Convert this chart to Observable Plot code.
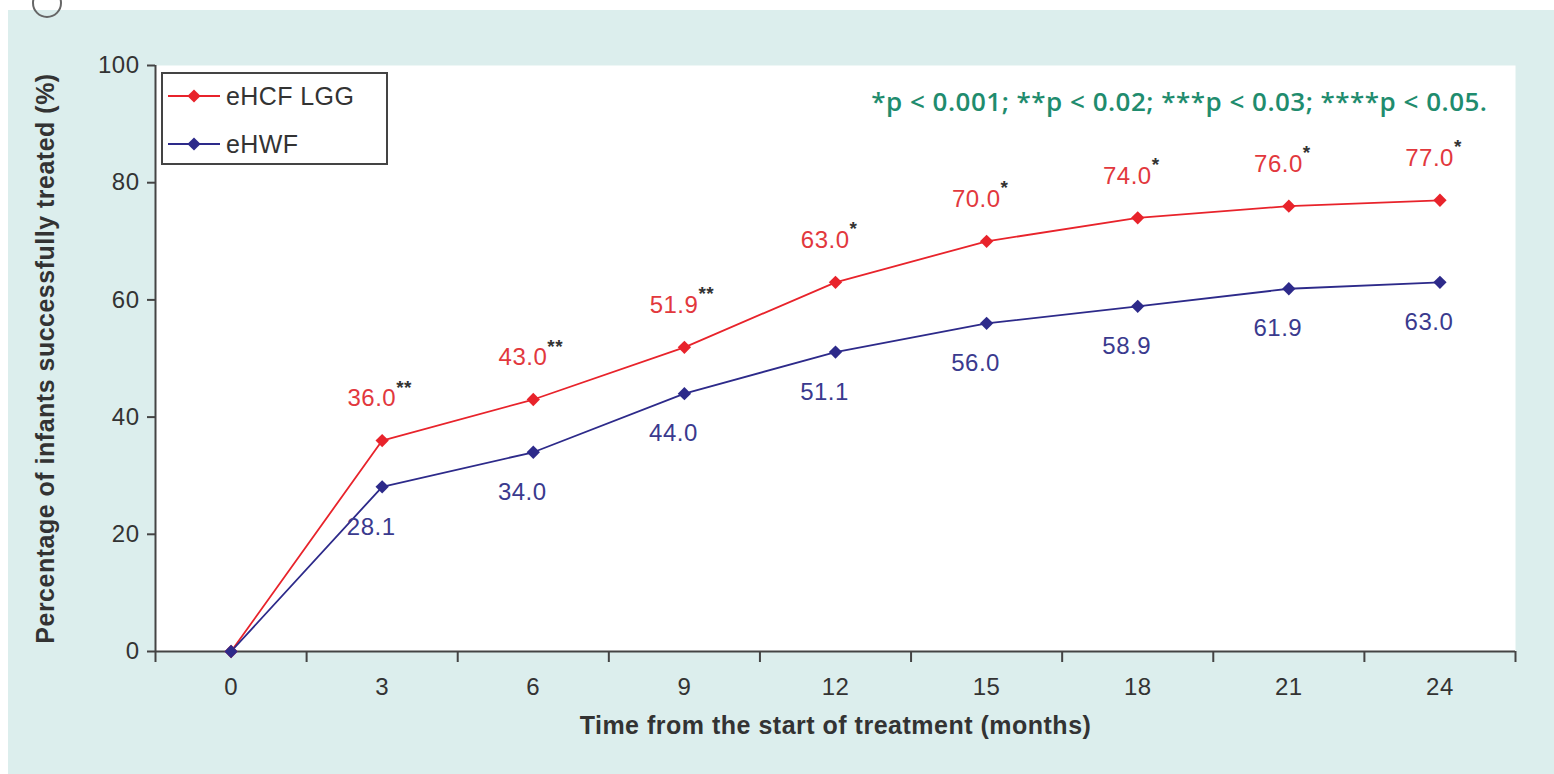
<!DOCTYPE html>
<html>
<head>
<meta charset="utf-8">
<script src="https://cdn.jsdelivr.net/npm/d3@7"></script>
<script src="https://cdn.jsdelivr.net/npm/@observablehq/plot@0.6"></script>
<style>
  html, body { margin: 0; padding: 0; background: #ffffff; }
  #wrap { position: relative; width: 1554px; height: 774px; overflow: hidden; background: #ffffff; }
  #chart { position: absolute; left: 8px; top: 10px; }
  #ring { position: absolute; left: 32px; top: -12px; width: 26px; height: 26px; border: 2px solid #666; border-radius: 50%; z-index: 2; }
  #legend { position: absolute; left: 161px; top: 72px; width: 227px; height: 93px; box-sizing: border-box;
            border: 2px solid #444; background: #fff; font-family: "Liberation Sans", Arial, sans-serif;
            font-size: 25px; color: #333; letter-spacing: 0.4px; }
  .row { position: absolute; left: 5px; height: 26px; display: flex; align-items: center; }
  .row svg { margin-right: 6px; }
</style>
</head>
<body>
<div id="wrap">
  <div id="chart"></div>
  <div id="ring"></div>
  <div id="legend"></div>
</div>
<script>
// ---- data ----
const months = [0, 3, 6, 9, 12, 15, 18, 21, 24];
const ehcfLGG = [0, 36.0, 43.0, 51.9, 63.0, 70.0, 74.0, 76.0, 77.0];
const ehwf = [0, 28.1, 34.0, 44.0, 51.1, 56.0, 58.9, 61.9, 63.0];
const ehcfStars = ["", "**", "**", "**", "*", "*", "*", "*", "*"];
const yTicks = [0, 20, 40, 60, 80, 100];
const seriesNames = ["eHCF LGG", "eHWF"];
const seriesColors = ["#e8232b", "#2d2a8a"];
const labelColors = ["#e2383d", "#3a3a8e"];
const pNote = "*p < 0.001; **p < 0.02; ***p < 0.03; ****p < 0.05.";
const xTitle = "Time from the start of treatment (months)";
const yTitle = "Percentage of infants successfully treated (%)";

// ---- tables ----
const red = months.map((m, i) => ({month: m, value: ehcfLGG[i], stars: ehcfStars[i]}));
const blue = months.map((m, i) => ({month: m, value: ehwf[i]}));
const redLab = red.filter(d => d.month > 0);
const blueLab = blue.filter(d => d.month > 0);
const step = months[1] - months[0];
const bounds = months.map(m => m - step / 2).concat([months[months.length - 1] + step / 2]);

const chart = Plot.plot({
  width: 1546,
  height: 764,
  marginLeft: 147,
  marginRight: 39,
  marginTop: 55,
  marginBottom: 123,
  style: {background: "#dceeed", color: "#333", fontFamily: "'Liberation Sans', Arial, sans-serif", fontSize: "24px", letterSpacing: "0.5px", overflow: "visible"},
  x: {domain: [bounds[0], bounds[bounds.length - 1]]},
  y: {domain: [0, 100]},
  marks: [
    Plot.frame({fill: "#ffffff", stroke: null}),
    Plot.axisX(bounds, {tickSize: 11, tickFormat: () => "", label: null, stroke: "#444", strokeWidth: 2}),
    Plot.axisX(months, {tickSize: 0, tickPadding: 26, label: null, fontSize: 24, fill: "#333"}),
    Plot.axisY(yTicks, {tickSize: 8, tickPadding: 8, label: null, fontSize: 24, fill: "#333", stroke: "#444", strokeWidth: 2}),
    Plot.ruleY([0], {stroke: "#444", strokeWidth: 2}),
    Plot.ruleX([bounds[0]], {stroke: "#444", strokeWidth: 2}),
    Plot.line(red, {x: "month", y: "value", stroke: seriesColors[0], strokeWidth: 1.8}),
    Plot.line(blue, {x: "month", y: "value", stroke: seriesColors[1], strokeWidth: 1.8}),
    Plot.dot(red, {x: "month", y: "value", symbol: "diamond2", r: 6, fill: seriesColors[0], stroke: null}),
    Plot.dot(blue, {x: "month", y: "value", symbol: "diamond2", r: 6, fill: seriesColors[1], stroke: null}),
    Plot.text(redLab, {x: "month", y: "value", text: d => d.value.toFixed(1), textAnchor: "end", dx: 14, dy: -42, fill: labelColors[0], fontSize: 24}),
    Plot.text(redLab, {x: "month", y: "value", text: "stars", textAnchor: "start", dx: 14, dy: -53, fill: "#333", fontSize: 19, fontWeight: "bold"}),
    Plot.text(blueLab, {x: "month", y: "value", text: d => d.value.toFixed(1), textAnchor: "middle", dx: -11, dy: 40, fill: labelColors[1], fontSize: 24}),
    Plot.text([xTitle], {frameAnchor: "bottom", dy: 82, fontWeight: "bold", fontSize: 25, fill: "#333", letterSpacing: "0.3px"}),
    Plot.text([yTitle], {frameAnchor: "left", textAnchor: "middle", dx: -110, rotate: -90, fontWeight: "bold", fontSize: 25, fill: "#333", letterSpacing: "0.3px"}),
    Plot.text([pNote], {frameAnchor: "top-right", dx: -28, dy: 37, lineAnchor: "middle", textAnchor: "end", fill: "#1f8c6e", fontSize: 26, fontWeight: 600, fontFamily: "'Open Sans', 'Noto Sans', sans-serif", letterSpacing: "0.5px"})
  ]
});
document.getElementById("chart").appendChild(chart);

// ---- legend ----
const legend = document.getElementById("legend");
seriesNames.forEach((name, i) => {
  const row = document.createElement("div");
  row.className = "row";
  row.style.top = (9 + i * 48) + "px";
  const s = d3.create("svg").attr("width", 52).attr("height", 20);
  s.append("line").attr("x1", 0).attr("x2", 52).attr("y1", 10).attr("y2", 10).attr("stroke", seriesColors[i]).attr("stroke-width", 1.8);
  s.append("path").attr("d", d3.symbol(d3.symbolDiamond2, 110)()).attr("transform", "translate(26,10)").attr("fill", seriesColors[i]);
  row.appendChild(s.node());
  const t = document.createElement("span");
  t.textContent = name;
  row.appendChild(t);
  legend.appendChild(row);
});
</script>
</body>
</html>
